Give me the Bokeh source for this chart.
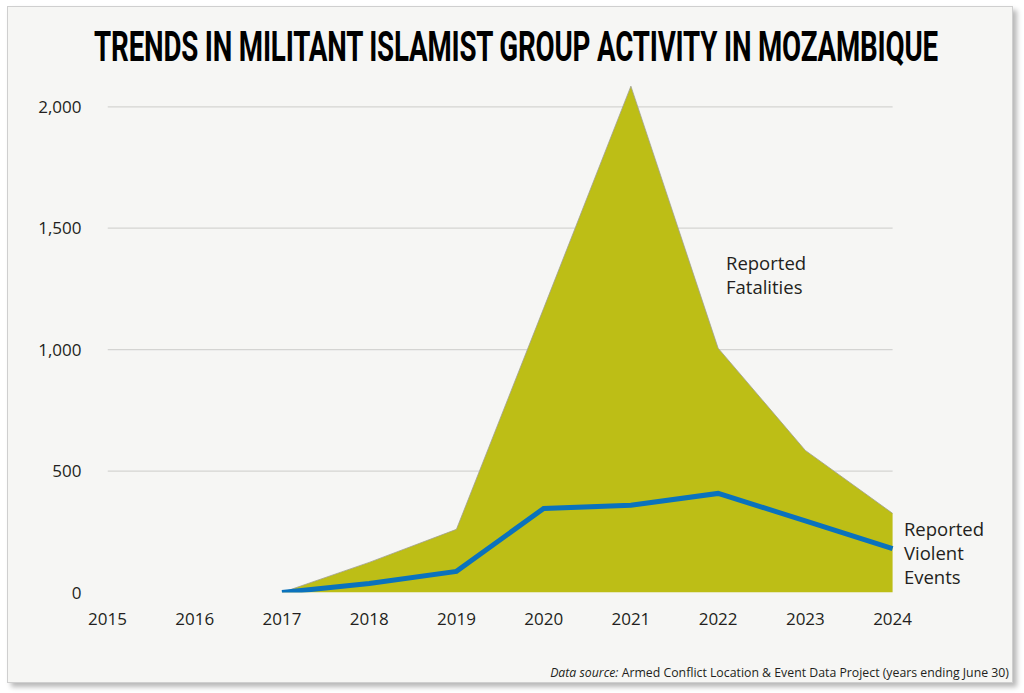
from bokeh.plotting import figure
from bokeh.models import FixedTicker, NumeralTickFormatter, Label, Div, Range1d, ColumnDataSource
from bokeh.layouts import column
from bokeh.embed import file_html
from bokeh.resources import INLINE

# Militant Islamist group activity in Mozambique (years ending June 30)
years = [2017, 2018, 2019, 2020, 2021, 2022, 2023, 2024]
fatalities = [0, 124, 260, 1170, 2085, 1006, 585, 326]
violent_events = [0, 37, 87, 346, 359, 408, 295, 181]

x_ticks = [2015, 2016, 2017, 2018, 2019, 2020, 2021, 2022, 2023, 2024]
x_tick_labels = ["2015", "2016", "2017", "2018", "2019", "2020", "2021", "2022", "2023", "2024"]
y_ticks = [0, 500, 1000, 1500, 2000]
grid_ticks = [500, 1000, 1500, 2000]

title_text = "TRENDS IN MILITANT ISLAMIST GROUP ACTIVITY IN MOZAMBIQUE"
fatalities_label = ["Reported", "Fatalities"]
events_label = ["Reported", "Violent", "Events"]

CARD_BG = "#f6f6f4"
INK = "#231f20"
OLIVE = "#bdbe16"
BLUE = "#0a72bd"
FONT = "Open Sans"

src = ColumnDataSource(dict(year=years, fat=fatalities, ev=violent_events))
grid_src = ColumnDataSource(dict(
    x0=[x_ticks[0]] * len(grid_ticks), x1=[x_ticks[-1]] * len(grid_ticks),
    y=grid_ticks,
))

# the frame runs past the last year so the right-hand label has room
p = figure(
    width=1006, height=582, title=None,
    x_range=Range1d(2015, 2025.26), y_range=Range1d(0, 2100),
    output_backend="svg", toolbar_location=None,
    background_fill_color=CARD_BG, border_fill_color=CARD_BG,
    outline_line_color=None,
    min_border_left=99, min_border_right=10, min_border_top=8, min_border_bottom=64,
)

# horizontal guides between the first and last year only
p.segment(x0="x0", x1="x1", y0="y", y1="y", source=grid_src,
          line_color="#d4d4d2", line_width=1.3)

# fatalities as a filled area with a thin grey rim, events as a blue line
p.varea(x="year", y1=0, y2="fat", source=src, fill_color=OLIVE)
p.line(x="year", y="fat", source=src, line_color="#a0a090", line_width=1, line_alpha=0.8)
p.line(x="year", y="ev", source=src, line_color=BLUE, line_width=5, line_join="miter")

p.xaxis.ticker = FixedTicker(ticks=x_ticks)
p.xaxis.major_label_overrides = {t: s for t, s in zip(x_ticks, x_tick_labels)}
p.yaxis.ticker = FixedTicker(ticks=y_ticks)
p.yaxis.formatter = NumeralTickFormatter(format="0,0")

for ax in (p.xaxis, p.yaxis):
    ax.axis_line_color = None
    ax.major_tick_line_color = None
    ax.minor_tick_line_color = None
    ax.major_label_text_font = FONT
    ax.major_label_text_font_size = "17px"
    ax.major_label_text_color = INK
p.yaxis.major_label_standoff = 20
p.xaxis.major_label_standoff = 14

p.xgrid.visible = False
p.ygrid.visible = False


def add_block(lines, x, y, step=24):
    for i, line in enumerate(lines):
        p.add_layout(Label(
            x=x, y=y, y_offset=-i * step, text=line,
            text_font=FONT, text_font_size="18.5px", text_color=INK,
            text_align="left", text_baseline="alphabetic",
        ))


add_block(fatalities_label, 2022.09, 1357)
add_block(events_label, 2024.13, 262)

title_div = Div(
    width=1006, height=57,
    text=(
        '<div style="position:relative;width:1006px;height:57px;">'
        '<span style="position:absolute;left:503px;top:11px;font-family:Roboto;'
        'font-weight:700;font-size:43px;line-height:46px;color:#000;'
        'transform:translateX(-50%) scaleX(0.645);white-space:nowrap;'
        'letter-spacing:-0.3px;">' + title_text + '</span></div>'
    ),
)

foot_div = Div(
    width=1006, height=38,
    text=(
        '<div style="width:996px;text-align:right;font-family:\'Open Sans\';'
        'font-size:12.3px;color:#231f20;padding-top:3px;white-space:nowrap;">'
        '<i>Data source:</i> Armed Conflict Location &amp; Event Data Project '
        '(years ending June 30)</div>'
    ),
)

card = column(
    title_div, p, foot_div, spacing=0, width=1006, height=677,
    styles={
        "margin-left": "7px", "margin-top": "6px",
        "background-color": CARD_BG,
        "border": "1px solid #cfcfcf",
        "box-shadow": "4px 4px 5px rgba(0,0,0,0.28)",
    },
)

open("out.html", "w").write(file_html(card, INLINE))
